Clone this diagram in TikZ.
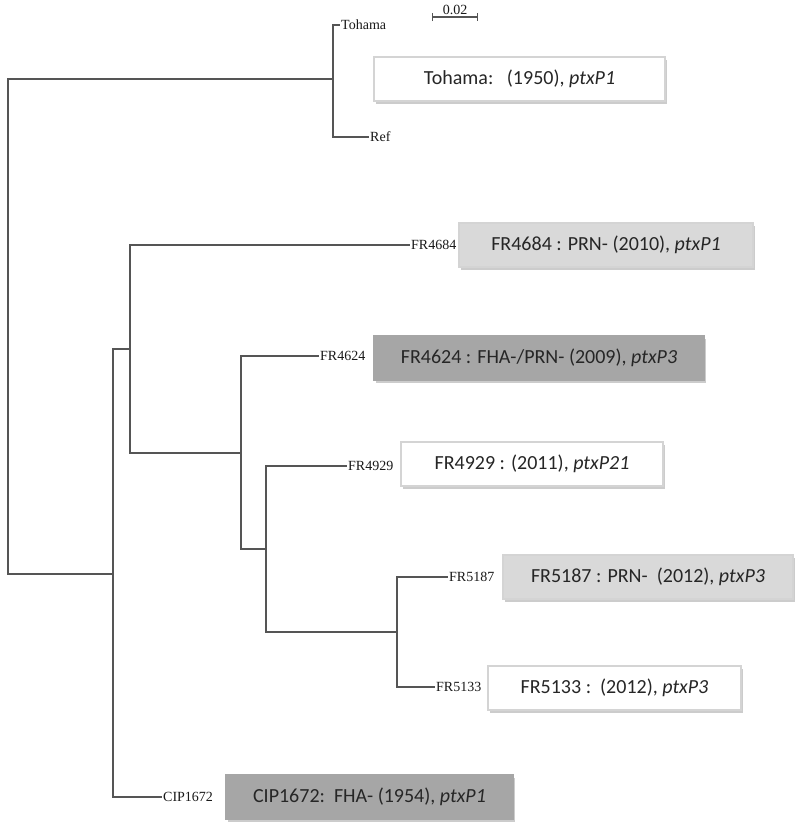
\documentclass[tikz,border=0pt]{standalone}
\usepackage{fontspec}
\setmainfont{Carlito}
\newfontfamily\leaffont{Liberation Serif}
\usepackage{tikz}
\usetikzlibrary{arrows.meta,positioning,shadows}
\definecolor{branchgray}{RGB}{85,85,85}
\definecolor{boxline}{RGB}{212,212,212}
\definecolor{boxlight}{RGB}{217,217,217}
\definecolor{boxdark}{RGB}{166,166,166}
\tikzset{
    branch/.style={draw=branchgray, line width=1.2pt},
    leaflabel/.style={
        anchor=west,
        inner sep=1pt,
        text=black!90,
        font=\leaffont\fontsize{14}{15}\selectfont
    },
    strainbase/.style={
        rectangle,
        anchor=west,
        minimum height=44pt,
        draw=boxline,
        line width=2pt,
        text=black!85,
        font=\fontsize{20}{24}\selectfont,
        drop shadow={shadow xshift=1.5pt, shadow yshift=-2.5pt, fill=black!40, opacity=0.5}
    },
    strainwhite/.style={strainbase, fill=white},
    strainlight/.style={strainbase, fill=boxlight},
    straindark/.style={strainbase, fill=boxdark, draw=boxdark},
    scalebar/.style={{Bar[width=8pt]}-{Bar[width=8pt]}, draw=branchgray, line width=1.2pt},
}

\begin{document}
\begin{tikzpicture}[x=1pt, y=-1pt]
    \useasboundingbox (0,0) rectangle (798,827);

    % inner nodes of the tree
    \coordinate (root) at (8,326);
    \coordinate (ntoh) at (333,79);
    \coordinate (na) at (113,574);
    \coordinate (nb) at (130,349);
    \coordinate (nc) at (241,453);
    \coordinate (nd) at (266,549);
    \coordinate (ne) at (397,632);

    % leaves
    \node[leaflabel] (tohama) at (340,25) {Tohama};
    \node[leaflabel] (ref) at (369,137) {Ref};
    \node[leaflabel] (fr4684) at (410,245) {FR4684};
    \node[leaflabel] (fr4624) at (319,356) {FR4624};
    \node[leaflabel] (fr4929) at (347,466) {FR4929};
    \node[leaflabel] (fr5187) at (448,577) {FR5187};
    \node[leaflabel] (fr5133) at (435,687) {FR5133};
    \node[leaflabel] (cip1672) at (162,797) {CIP1672};

    % branches
    \draw[branch] (root) |- (ntoh);
    \draw[branch] (root) |- (na);
    \draw[branch] (ntoh) |- (tohama.west);
    \draw[branch] (ntoh) |- (ref.west);
    \draw[branch] (na) |- (nb);
    \draw[branch] (na) |- (cip1672.west);
    \draw[branch] (nb) |- (fr4684.west);
    \draw[branch] (nb) |- (nc);
    \draw[branch] (nc) |- (fr4624.west);
    \draw[branch] (nc) |- (nd);
    \draw[branch] (nd) |- (fr4929.west);
    \draw[branch] (nd) |- (ne);
    \draw[branch] (ne) |- (fr5187.west);
    \draw[branch] (ne) |- (fr5133.west);

    % scale
    \coordinate (scaleleft) at (432,17);
    \coordinate (scaleright) at (478,17);
    \draw[scalebar] (scaleleft) -- (scaleright)
        node[midway, above=1pt, leaflabel, anchor=south] (scaletext) {0.02};

    % strain boxes
    \node[strainwhite, minimum width=291pt] (tohamabox) at (373,79) {Tohama:\ \ \ (1950), \textit{ptxP1}};
    \node[strainlight, minimum width=294pt] (fr4684box) at (458,245) {FR4684 : PRN- (2010), \textit{ptxP1}};
    \node[straindark, minimum width=330pt] (fr4624box) at (373,358) {FR4624 : FHA-/PRN- (2009), \textit{ptxP3}};
    \node[strainwhite, minimum width=262pt] (fr4929box) at (400,464) {FR4929 : (2011), \textit{ptxP21}};
    \node[strainlight, minimum width=290pt] (fr5187box) at (502,577) {FR5187 : PRN-\ \ (2012), \textit{ptxP3}};
    \node[strainwhite, minimum width=253pt] (fr5133box) at (487,688) {FR5133 :\ \ (2012), \textit{ptxP3}};
    \node[straindark, minimum width=287pt] (cip1672box) at (225,797) {CIP1672:\ \ FHA- (1954), \textit{ptxP1}};
\end{tikzpicture}
\end{document}
